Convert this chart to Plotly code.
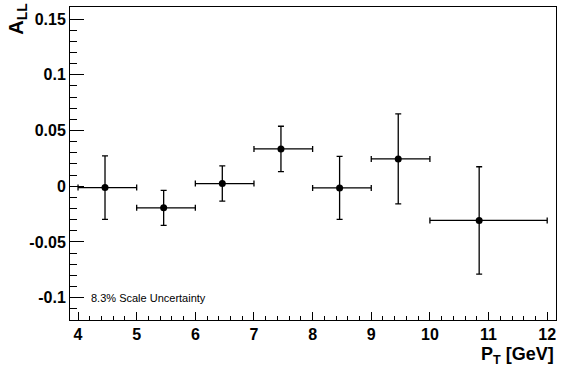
import plotly.graph_objects as go

pt = [4.46, 5.46, 6.46, 7.46, 8.46, 9.46, 10.84]
bin_lo = [4, 5, 6, 7, 8, 9, 10]
bin_hi = [5, 6, 7, 8, 9, 10, 12]
all_vals = [-0.0012, -0.0194, 0.0024, 0.0335, -0.0015, 0.0245, -0.0307]
all_err = [0.0285, 0.0157, 0.0158, 0.0203, 0.0283, 0.0404, 0.0482]

err_plus = [h - x for h, x in zip(bin_hi, pt)]
err_minus = [x - l for l, x in zip(bin_lo, pt)]

FONT = "Liberation Sans, Arial, Helvetica, sans-serif"

fig = go.Figure()
fig.add_trace(go.Scatter(
    x=pt, y=all_vals, mode="markers",
    marker=dict(color="black", size=7),
    error_x=dict(type="data", symmetric=False, array=err_plus, arrayminus=err_minus,
                 color="black", thickness=1.3, width=3),
    error_y=dict(type="data", array=all_err, color="black", thickness=1.3, width=3),
    showlegend=False,
))

fig.update_layout(
    width=567, height=366,
    margin=dict(l=70, r=11, t=7, b=46),
    paper_bgcolor="white", plot_bgcolor="white",
    font=dict(family=FONT, color="black"),
    xaxis=dict(
        range=[3.863, 12.15], tickmode="array", tickvals=list(range(4, 13)),
        ticks="inside", ticklen=8, tickwidth=1, tickcolor="black",
        showline=True, linecolor="black", linewidth=1, mirror=True,
        showgrid=False, zeroline=False,
        tickfont=dict(size=16, family=FONT, weight="bold"),
        minor=dict(dtick=0.2, ticks="inside", ticklen=4, tickcolor="black", showgrid=False),
    ),
    yaxis=dict(
        range=[-0.12, 0.1608], tickmode="array",
        tickvals=[-0.1, -0.05, 0, 0.05, 0.1, 0.15],
        ticktext=["-0.1", "-0.05", "0", "0.05", "0.1", "0.15"],
        ticks="inside", ticklen=14, tickwidth=1, tickcolor="black",
        showline=True, linecolor="black", linewidth=1, mirror=True,
        showgrid=False, zeroline=False,
        tickfont=dict(size=16, family=FONT, weight="bold"),
        minor=dict(dtick=0.01, tick0=0, ticks="inside", ticklen=7, tickcolor="black", showgrid=False),
    ),
    annotations=[
        dict(text="A<sub>LL</sub>", xref="paper", yref="paper", x=-0.107, y=1.02,
             xanchor="center", yanchor="top", textangle=-90, showarrow=False,
             font=dict(size=20, family=FONT, weight="bold")),
        dict(text="P<sub>T</sub> [GeV]", xref="paper", yref="paper", x=1.0, y=-0.112,
             xanchor="right", yanchor="middle", showarrow=False,
             font=dict(size=18, family=FONT, weight="bold")),
        dict(text="8.3% Scale Uncertainty", xref="paper", yref="paper", x=0.039, y=0.07,
             xanchor="left", yanchor="middle", showarrow=False,
             font=dict(size=11, family=FONT)),
    ],
)

fig.write_html("out.html", config={"displayModeBar": False},
               post_script="document.body.style.margin='0';")
